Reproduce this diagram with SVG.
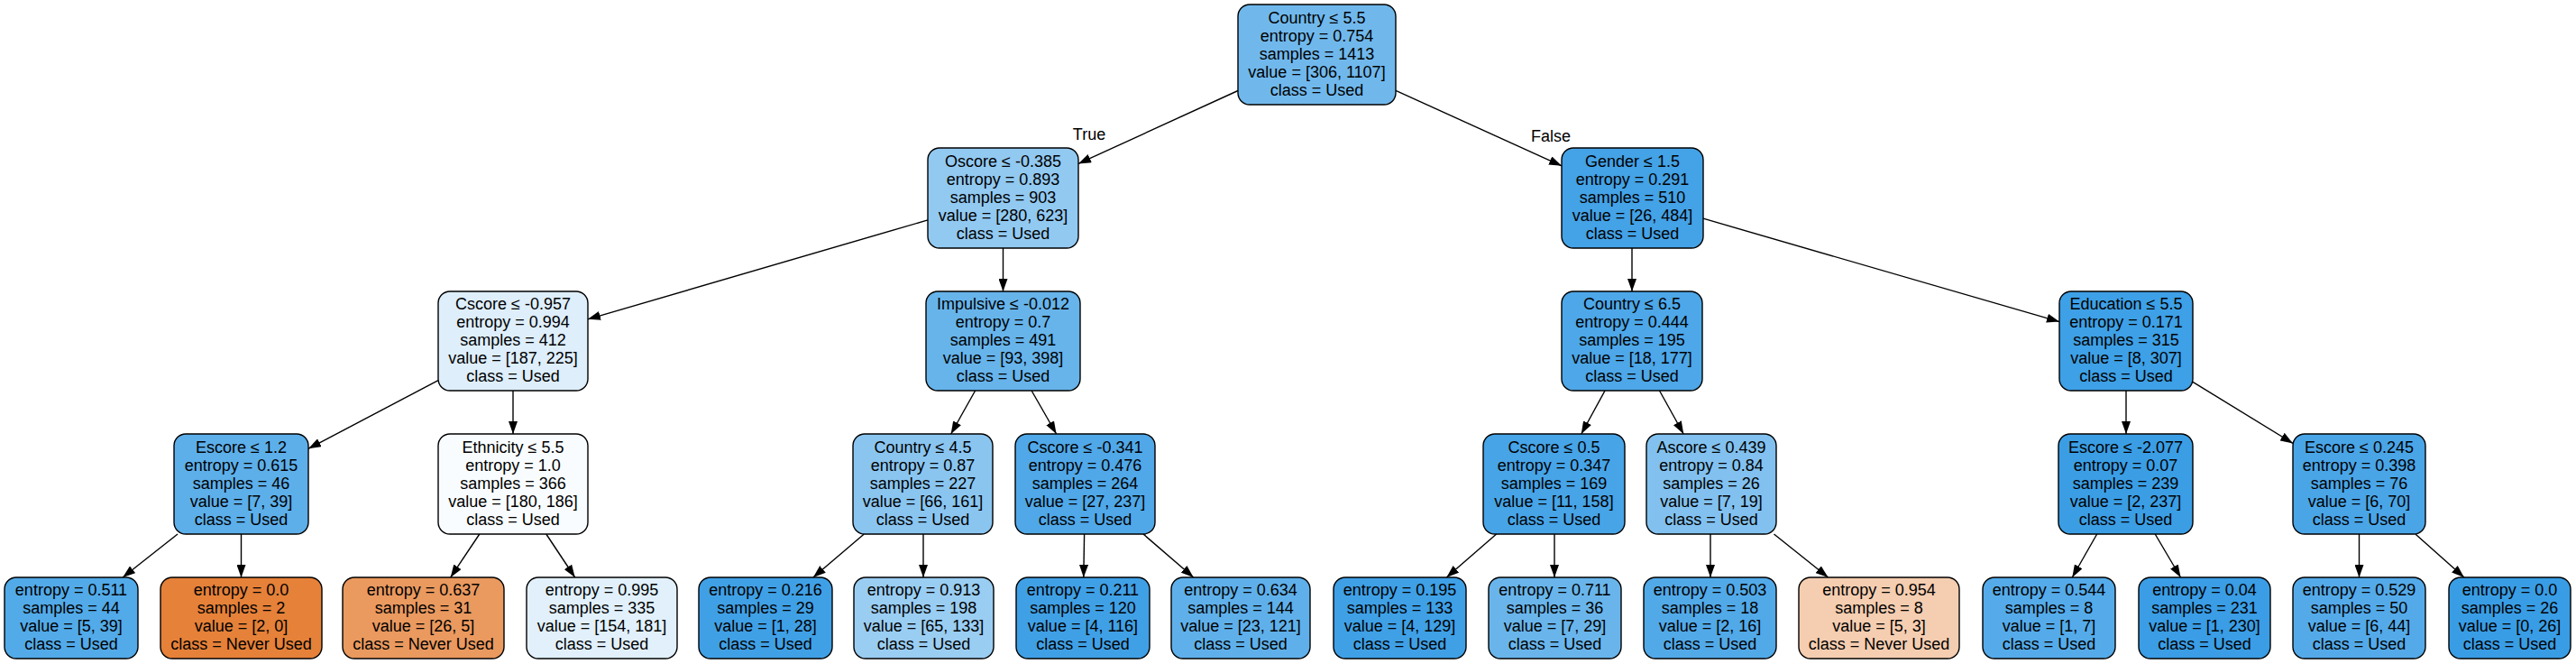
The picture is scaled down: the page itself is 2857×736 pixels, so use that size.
<svg xmlns="http://www.w3.org/2000/svg" width="2857" height="736" viewBox="0 0 2857 736">
<style>
.n rect{stroke:#000;stroke-width:1.4}
text{font-family:"Liberation Sans",Arial,Helvetica,sans-serif;font-size:18px;text-anchor:middle;fill:#000}
.e line{stroke:#000;stroke-width:1.4;marker-end:url(#a)}
</style>
<defs>
<marker id="a" markerUnits="userSpaceOnUse" markerWidth="14" markerHeight="10" refX="14" refY="5" orient="auto"><path d="M0,0 L14,5 L0,10 z" fill="#000"/></marker>
</defs>
<rect width="2857" height="736" fill="#fff"/>
<g id="edges" class="e">
<line x1="1373" y1="100.5" x2="1196" y2="181.4"/>
<line x1="1548" y1="100.3" x2="1732" y2="183.8"/>
<line x1="1029" y1="243.9" x2="652" y2="353.8"/>
<line x1="1112.5" y1="275" x2="1112.5" y2="323"/>
<line x1="1810" y1="275" x2="1810" y2="323"/>
<line x1="1889" y1="242.2" x2="2284" y2="356.6"/>
<line x1="486" y1="421.6" x2="342" y2="497.3"/>
<line x1="569" y1="433" x2="569" y2="481"/>
<line x1="1081.6" y1="433" x2="1054.7" y2="481"/>
<line x1="1144.1" y1="433" x2="1171.6" y2="481"/>
<line x1="1780" y1="433" x2="1753.8" y2="481"/>
<line x1="1840.5" y1="433" x2="1867.2" y2="481"/>
<line x1="2358" y1="433" x2="2358" y2="481"/>
<line x1="2432" y1="423.4" x2="2543" y2="491.4"/>
<line x1="197" y1="592" x2="136.1" y2="640"/>
<line x1="267.5" y1="592" x2="267.5" y2="640"/>
<line x1="531.8" y1="592" x2="499.7" y2="640"/>
<line x1="605.8" y1="592" x2="637.7" y2="640"/>
<line x1="958.3" y1="592" x2="901.9" y2="640"/>
<line x1="1024" y1="592" x2="1024" y2="640"/>
<line x1="1202.6" y1="592" x2="1201.8" y2="640"/>
<line x1="1268" y1="592" x2="1323.7" y2="640"/>
<line x1="1659.6" y1="592" x2="1604.3" y2="640"/>
<line x1="1724" y1="592" x2="1724" y2="640"/>
<line x1="1897" y1="592" x2="1897" y2="640"/>
<line x1="1967.5" y1="592" x2="2027.6" y2="640"/>
<line x1="2325.7" y1="592" x2="2298.3" y2="640"/>
<line x1="2390.2" y1="592" x2="2418.5" y2="640"/>
<line x1="2616.5" y1="592" x2="2616.5" y2="640"/>
<line x1="2678.9" y1="592" x2="2732.9" y2="640"/>
</g>
<g id="edge-labels">
<text x="1208" y="155">True</text>
<text x="1720" y="157">False</text>
</g>
<g id="n0" class="n"><rect x="1373" y="5" width="175" height="111" rx="13" fill="#70b8ec"/><text x="1460.5" y="25.5"><tspan x="1460.5">Country ≤ 5.5</tspan><tspan x="1460.5" dy="20">entropy = 0.754</tspan><tspan x="1460.5" dy="20">samples = 1413</tspan><tspan x="1460.5" dy="20">value = [306, 1107]</tspan><tspan x="1460.5" dy="20">class = Used</tspan></text></g>
<g id="n1" class="n"><rect x="1029" y="164" width="167" height="111" rx="13" fill="#92c9f1"/><text x="1112.5" y="184.5"><tspan x="1112.5">Oscore ≤ -0.385</tspan><tspan x="1112.5" dy="20">entropy = 0.893</tspan><tspan x="1112.5" dy="20">samples = 903</tspan><tspan x="1112.5" dy="20">value = [280, 623]</tspan><tspan x="1112.5" dy="20">class = Used</tspan></text></g>
<g id="n16" class="n"><rect x="1732" y="164" width="157" height="111" rx="13" fill="#44a2e6"/><text x="1810.5" y="184.5"><tspan x="1810.5">Gender ≤ 1.5</tspan><tspan x="1810.5" dy="20">entropy = 0.291</tspan><tspan x="1810.5" dy="20">samples = 510</tspan><tspan x="1810.5" dy="20">value = [26, 484]</tspan><tspan x="1810.5" dy="20">class = Used</tspan></text></g>
<g id="n2" class="n"><rect x="486" y="323" width="166" height="110" rx="13" fill="#deeefb"/><text x="569" y="343"><tspan x="569">Cscore ≤ -0.957</tspan><tspan x="569" dy="20">entropy = 0.994</tspan><tspan x="569" dy="20">samples = 412</tspan><tspan x="569" dy="20">value = [187, 225]</tspan><tspan x="569" dy="20">class = Used</tspan></text></g>
<g id="n9" class="n"><rect x="1027" y="323" width="171" height="110" rx="13" fill="#67b4eb"/><text x="1112.5" y="343"><tspan x="1112.5">Impulsive ≤ -0.012</tspan><tspan x="1112.5" dy="20">entropy = 0.7</tspan><tspan x="1112.5" dy="20">samples = 491</tspan><tspan x="1112.5" dy="20">value = [93, 398]</tspan><tspan x="1112.5" dy="20">class = Used</tspan></text></g>
<g id="n17" class="n"><rect x="1732" y="323" width="156" height="110" rx="13" fill="#4da7e8"/><text x="1810" y="343"><tspan x="1810">Country ≤ 6.5</tspan><tspan x="1810" dy="20">entropy = 0.444</tspan><tspan x="1810" dy="20">samples = 195</tspan><tspan x="1810" dy="20">value = [18, 177]</tspan><tspan x="1810" dy="20">class = Used</tspan></text></g>
<g id="n24" class="n"><rect x="2284" y="323" width="148" height="110" rx="13" fill="#3ea0e6"/><text x="2358" y="343"><tspan x="2358">Education ≤ 5.5</tspan><tspan x="2358" dy="20">entropy = 0.171</tspan><tspan x="2358" dy="20">samples = 315</tspan><tspan x="2358" dy="20">value = [8, 307]</tspan><tspan x="2358" dy="20">class = Used</tspan></text></g>
<g id="n3" class="n"><rect x="193" y="481" width="149" height="111" rx="13" fill="#5dafea"/><text x="267.5" y="501.5"><tspan x="267.5">Escore ≤ 1.2</tspan><tspan x="267.5" dy="20">entropy = 0.615</tspan><tspan x="267.5" dy="20">samples = 46</tspan><tspan x="267.5" dy="20">value = [7, 39]</tspan><tspan x="267.5" dy="20">class = Used</tspan></text></g>
<g id="n6" class="n"><rect x="486" y="481" width="166" height="111" rx="13" fill="#f9fcfe"/><text x="569" y="501.5"><tspan x="569">Ethnicity ≤ 5.5</tspan><tspan x="569" dy="20">entropy = 1.0</tspan><tspan x="569" dy="20">samples = 366</tspan><tspan x="569" dy="20">value = [180, 186]</tspan><tspan x="569" dy="20">class = Used</tspan></text></g>
<g id="n10" class="n"><rect x="946" y="481" width="155" height="111" rx="13" fill="#8ac5f0"/><text x="1023.5" y="501.5"><tspan x="1023.5">Country ≤ 4.5</tspan><tspan x="1023.5" dy="20">entropy = 0.87</tspan><tspan x="1023.5" dy="20">samples = 227</tspan><tspan x="1023.5" dy="20">value = [66, 161]</tspan><tspan x="1023.5" dy="20">class = Used</tspan></text></g>
<g id="n13" class="n"><rect x="1126" y="481" width="155" height="111" rx="13" fill="#50a8e8"/><text x="1203.5" y="501.5"><tspan x="1203.5">Cscore ≤ -0.341</tspan><tspan x="1203.5" dy="20">entropy = 0.476</tspan><tspan x="1203.5" dy="20">samples = 264</tspan><tspan x="1203.5" dy="20">value = [27, 237]</tspan><tspan x="1203.5" dy="20">class = Used</tspan></text></g>
<g id="n18" class="n"><rect x="1645" y="481" width="157" height="111" rx="13" fill="#47a4e7"/><text x="1723.5" y="501.5"><tspan x="1723.5">Cscore ≤ 0.5</tspan><tspan x="1723.5" dy="20">entropy = 0.347</tspan><tspan x="1723.5" dy="20">samples = 169</tspan><tspan x="1723.5" dy="20">value = [11, 158]</tspan><tspan x="1723.5" dy="20">class = Used</tspan></text></g>
<g id="n21" class="n"><rect x="1826" y="481" width="144" height="111" rx="13" fill="#82c1ef"/><text x="1898" y="501.5"><tspan x="1898">Ascore ≤ 0.439</tspan><tspan x="1898" dy="20">entropy = 0.84</tspan><tspan x="1898" dy="20">samples = 26</tspan><tspan x="1898" dy="20">value = [7, 19]</tspan><tspan x="1898" dy="20">class = Used</tspan></text></g>
<g id="n25" class="n"><rect x="2283" y="481" width="149" height="111" rx="13" fill="#3b9ee5"/><text x="2357.5" y="501.5"><tspan x="2357.5">Escore ≤ -2.077</tspan><tspan x="2357.5" dy="20">entropy = 0.07</tspan><tspan x="2357.5" dy="20">samples = 239</tspan><tspan x="2357.5" dy="20">value = [2, 237]</tspan><tspan x="2357.5" dy="20">class = Used</tspan></text></g>
<g id="n28" class="n"><rect x="2543" y="481" width="147" height="111" rx="13" fill="#4aa5e7"/><text x="2616.5" y="501.5"><tspan x="2616.5">Escore ≤ 0.245</tspan><tspan x="2616.5" dy="20">entropy = 0.398</tspan><tspan x="2616.5" dy="20">samples = 76</tspan><tspan x="2616.5" dy="20">value = [6, 70]</tspan><tspan x="2616.5" dy="20">class = Used</tspan></text></g>
<g id="n4" class="n"><rect x="5" y="640" width="148" height="90" rx="13" fill="#52aae8"/><text x="79" y="660"><tspan x="79">entropy = 0.511</tspan><tspan x="79" dy="20">samples = 44</tspan><tspan x="79" dy="20">value = [5, 39]</tspan><tspan x="79" dy="20">class = Used</tspan></text></g>
<g id="n5" class="n"><rect x="178" y="640" width="179" height="90" rx="13" fill="#e58139"/><text x="267.5" y="660"><tspan x="267.5">entropy = 0.0</tspan><tspan x="267.5" dy="20">samples = 2</tspan><tspan x="267.5" dy="20">value = [2, 0]</tspan><tspan x="267.5" dy="20">class = Never Used</tspan></text></g>
<g id="n7" class="n"><rect x="380" y="640" width="179" height="90" rx="13" fill="#ea995f"/><text x="469.5" y="660"><tspan x="469.5">entropy = 0.637</tspan><tspan x="469.5" dy="20">samples = 31</tspan><tspan x="469.5" dy="20">value = [26, 5]</tspan><tspan x="469.5" dy="20">class = Never Used</tspan></text></g>
<g id="n8" class="n"><rect x="584" y="640" width="167" height="90" rx="13" fill="#e1f0fb"/><text x="667.5" y="660"><tspan x="667.5">entropy = 0.995</tspan><tspan x="667.5" dy="20">samples = 335</tspan><tspan x="667.5" dy="20">value = [154, 181]</tspan><tspan x="667.5" dy="20">class = Used</tspan></text></g>
<g id="n11" class="n"><rect x="775" y="640" width="148" height="90" rx="13" fill="#40a0e6"/><text x="849" y="660"><tspan x="849">entropy = 0.216</tspan><tspan x="849" dy="20">samples = 29</tspan><tspan x="849" dy="20">value = [1, 28]</tspan><tspan x="849" dy="20">class = Used</tspan></text></g>
<g id="n12" class="n"><rect x="947" y="640" width="155" height="90" rx="13" fill="#9acdf2"/><text x="1024.5" y="660"><tspan x="1024.5">entropy = 0.913</tspan><tspan x="1024.5" dy="20">samples = 198</tspan><tspan x="1024.5" dy="20">value = [65, 133]</tspan><tspan x="1024.5" dy="20">class = Used</tspan></text></g>
<g id="n14" class="n"><rect x="1127" y="640" width="148" height="90" rx="13" fill="#40a0e6"/><text x="1201" y="660"><tspan x="1201">entropy = 0.211</tspan><tspan x="1201" dy="20">samples = 120</tspan><tspan x="1201" dy="20">value = [4, 116]</tspan><tspan x="1201" dy="20">class = Used</tspan></text></g>
<g id="n15" class="n"><rect x="1299" y="640" width="154" height="90" rx="13" fill="#5fb0ea"/><text x="1376" y="660"><tspan x="1376">entropy = 0.634</tspan><tspan x="1376" dy="20">samples = 144</tspan><tspan x="1376" dy="20">value = [23, 121]</tspan><tspan x="1376" dy="20">class = Used</tspan></text></g>
<g id="n19" class="n"><rect x="1479" y="640" width="147" height="90" rx="13" fill="#3fa0e6"/><text x="1552.5" y="660"><tspan x="1552.5">entropy = 0.195</tspan><tspan x="1552.5" dy="20">samples = 133</tspan><tspan x="1552.5" dy="20">value = [4, 129]</tspan><tspan x="1552.5" dy="20">class = Used</tspan></text></g>
<g id="n20" class="n"><rect x="1651" y="640" width="147" height="90" rx="13" fill="#69b5eb"/><text x="1724.5" y="660"><tspan x="1724.5">entropy = 0.711</tspan><tspan x="1724.5" dy="20">samples = 36</tspan><tspan x="1724.5" dy="20">value = [7, 29]</tspan><tspan x="1724.5" dy="20">class = Used</tspan></text></g>
<g id="n22" class="n"><rect x="1823" y="640" width="147" height="90" rx="13" fill="#52a9e8"/><text x="1896.5" y="660"><tspan x="1896.5">entropy = 0.503</tspan><tspan x="1896.5" dy="20">samples = 18</tspan><tspan x="1896.5" dy="20">value = [2, 16]</tspan><tspan x="1896.5" dy="20">class = Used</tspan></text></g>
<g id="n23" class="n"><rect x="1995" y="640" width="178" height="90" rx="13" fill="#f5cdb0"/><text x="2084" y="660"><tspan x="2084">entropy = 0.954</tspan><tspan x="2084" dy="20">samples = 8</tspan><tspan x="2084" dy="20">value = [5, 3]</tspan><tspan x="2084" dy="20">class = Never Used</tspan></text></g>
<g id="n26" class="n"><rect x="2199" y="640" width="147" height="90" rx="13" fill="#55abe9"/><text x="2272.5" y="660"><tspan x="2272.5">entropy = 0.544</tspan><tspan x="2272.5" dy="20">samples = 8</tspan><tspan x="2272.5" dy="20">value = [1, 7]</tspan><tspan x="2272.5" dy="20">class = Used</tspan></text></g>
<g id="n27" class="n"><rect x="2372" y="640" width="146" height="90" rx="13" fill="#3a9de5"/><text x="2445" y="660"><tspan x="2445">entropy = 0.04</tspan><tspan x="2445" dy="20">samples = 231</tspan><tspan x="2445" dy="20">value = [1, 230]</tspan><tspan x="2445" dy="20">class = Used</tspan></text></g>
<g id="n29" class="n"><rect x="2543" y="640" width="147" height="90" rx="13" fill="#54aae9"/><text x="2616.5" y="660"><tspan x="2616.5">entropy = 0.529</tspan><tspan x="2616.5" dy="20">samples = 50</tspan><tspan x="2616.5" dy="20">value = [6, 44]</tspan><tspan x="2616.5" dy="20">class = Used</tspan></text></g>
<g id="n30" class="n"><rect x="2716" y="640" width="135" height="90" rx="13" fill="#399de5"/><text x="2783.5" y="660"><tspan x="2783.5">entropy = 0.0</tspan><tspan x="2783.5" dy="20">samples = 26</tspan><tspan x="2783.5" dy="20">value = [0, 26]</tspan><tspan x="2783.5" dy="20">class = Used</tspan></text></g>
</svg>
